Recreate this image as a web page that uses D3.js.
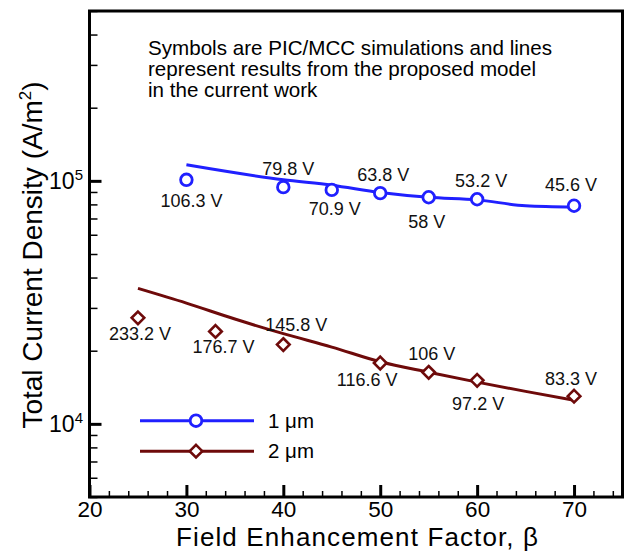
<!DOCTYPE html>
<html>
<head>
<meta charset="utf-8">
<script src="https://cdn.jsdelivr.net/npm/d3@7/dist/d3.min.js"></script>
<style>
  html, body { margin: 0; padding: 0; background: #fff; }
  svg { display: block; font-family: "Liberation Sans", Arial, Helvetica, sans-serif; }
</style>
</head>
<body>
<svg id="chart" width="630" height="552"></svg>
<script>
// PIC/MCC simulation results (symbols) and model predictions (lines)
const beta1 = [30, 40, 45, 50, 55, 60, 70];
const pic1 = [1.01e5, 9.42e4, 9.18e4, 8.9e4, 8.56e4, 8.4e4, 7.9e4];
const volt1 = ["106.3 V", "79.8 V", "70.9 V", "63.8 V", "58 V", "53.2 V", "45.6 V"];
const modelBeta1 = [30, 40, 45, 50, 55, 60, 65, 70];
const model1 = [1.164e5, 1.01e5, 9.6e4, 8.96e4, 8.56e4, 8.35e4, 7.9e4, 7.8e4];

const beta2 = [25, 33, 40, 50, 55, 60, 70];
const pic2 = [2.73e4, 2.40e4, 2.12e4, 1.78e4, 1.63e4, 1.51e4, 1.30e4];
const volt2 = ["233.2 V", "176.7 V", "145.8 V", "116.6 V", "106 V", "97.2 V", "83.3 V"];
const modelBeta2 = [25, 30, 35, 40, 45, 50, 55, 60, 65, 70];
const model2 = [3.61e4, 3.14e4, 2.70e4, 2.35e4, 2.07e4, 1.80e4, 1.63e4, 1.485e4, 1.36e4, 1.25e4];

const seriesNames = ["1 \u03bcm", "2 \u03bcm"];

// Tick values
const xMajor = [20, 30, 40, 50, 60, 70];
const xMinor = [22, 24, 26, 28, 32, 34, 36, 38, 42, 44, 46, 48, 52, 54, 56, 58, 62, 64, 66, 68, 72, 74];
const yMajor = [1e4, 1e5];
const yMinor = [5e3, 6e3, 7e3, 8e3, 9e3, 2e4, 3e4, 4e4, 5e4, 6e4, 7e4, 8e4, 9e4, 2e5, 3e5, 4e5, 5e5];
const yExponents = ["4", "5"];

// Voltage label placement (pixel offsets from each symbol)
const lab1 = [[5, 27], [5, -12], [3, 25], [3, -12], [-2, 31], [4, -12], [-3, -15]];
const lab2 = [[2, 22], [8, 22], [13, -14], [-13, 23], [3, -12], [1, 30], [-3, -11]];

const BLUE = "#2020ff";
const MAROON = "#6e0a0a";

const svg = d3.select("#chart");
const plotL = 89.5, plotR = 622.5, plotT = 11, plotB = 497;

const x = d3.scaleLinear().domain([20, 75]).range([plotL, plotR]);
const y = d3.scaleLog().domain([5000, 5e5]).range([plotB, plotT]);

// Bottom axis: major ticks with labels, minor ticks pointing inward
const xAxisMajor = d3.axisBottom(x).tickValues(xMajor).tickSize(-12).tickPadding(4.5)
  .tickFormat(d3.format("d"));
const gx = svg.append("g").attr("transform", `translate(0,${plotB})`).call(xAxisMajor);
gx.select(".domain").remove();
gx.selectAll(".tick line").attr("stroke", "#000").attr("stroke-width", 3);
gx.selectAll(".tick text").attr("fill", "#000").attr("font-size", 22.5)
  .attr("font-family", "Liberation Sans, Arial, sans-serif");

const gxm = svg.append("g").attr("transform", `translate(0,${plotB})`)
  .call(d3.axisBottom(x).tickValues(xMinor).tickSize(-6).tickFormat(""));
gxm.select(".domain").remove();
gxm.selectAll(".tick line").attr("stroke", "#000").attr("stroke-width", 1.5);

// Left axis
const gy = svg.append("g").attr("transform", `translate(${plotL},0)`)
  .call(d3.axisLeft(y).tickValues(yMajor).tickSize(-12).tickFormat(""));
gy.select(".domain").remove();
gy.selectAll(".tick line").attr("stroke", "#000").attr("stroke-width", 3);

const gym = svg.append("g").attr("transform", `translate(${plotL},0)`)
  .call(d3.axisLeft(y).tickValues(yMinor).tickSize(-8).tickFormat(""));
gym.select(".domain").remove();
gym.selectAll(".tick line").attr("stroke", "#000").attr("stroke-width", 1.5);

// Power-of-ten labels
yMajor.forEach((v, i) => {
  const t = svg.append("text")
    .attr("x", 83).attr("y", y(v) + 8)
    .attr("text-anchor", "end").attr("font-size", 23).attr("fill", "#000");
  t.append("tspan").text("10");
  t.append("tspan").attr("dy", -9).attr("font-size", 15).text(yExponents[i]);
});

// Frame
svg.append("rect")
  .attr("x", plotL).attr("y", plotT)
  .attr("width", plotR - plotL).attr("height", plotB - plotT)
  .attr("fill", "none").attr("stroke", "#000").attr("stroke-width", 3);

// Model lines
const line = d3.line().x(d => x(d[0])).y(d => y(d[1])).curve(d3.curveMonotoneX);
svg.append("path").datum(d3.zip(modelBeta1, model1))
  .attr("d", line).attr("fill", "none").attr("stroke", BLUE).attr("stroke-width", 3);
svg.append("path").datum(d3.zip(modelBeta2, model2))
  .attr("d", line).attr("fill", "none").attr("stroke", MAROON).attr("stroke-width", 3);

// Symbols
const diamond = s => `M0,${-s}L${s},0L0,${s}L${-s},0Z`;

svg.append("g").selectAll("circle").data(d3.zip(beta1, pic1)).join("circle")
  .attr("cx", d => x(d[0])).attr("cy", d => y(d[1])).attr("r", 5.8)
  .attr("fill", "#fff").attr("stroke", BLUE).attr("stroke-width", 2.8);

svg.append("g").selectAll("path").data(d3.zip(beta2, pic2)).join("path")
  .attr("transform", d => `translate(${x(d[0])},${y(d[1])})`)
  .attr("d", diamond(6.3))
  .attr("fill", "#fff").attr("stroke", MAROON).attr("stroke-width", 2.6);

// Voltage labels
function voltLabels(betas, vals, labels, offs) {
  svg.append("g").selectAll("text").data(d3.range(betas.length)).join("text")
    .attr("x", i => x(betas[i]) + offs[i][0])
    .attr("y", i => y(vals[i]) + offs[i][1])
    .attr("text-anchor", "middle").attr("font-size", 18).attr("fill", "#111")
    .text(i => labels[i]);
}
voltLabels(beta1, pic1, volt1, lab1);
voltLabels(beta2, pic2, volt2, lab2);

// Note text
const note = ["Symbols are PIC/MCC simulations and lines",
              "represent results from the proposed model",
              "in the current work"];
svg.append("g").selectAll("text").data(note).join("text")
  .attr("x", 148).attr("y", (d, i) => 55 + i * 21)
  .attr("font-size", 20.6).attr("fill", "#000").text(d => d);

// Legend
const legend = svg.append("g");
[[BLUE, "circle"], [MAROON, "diamond"]].forEach((s, i) => {
  const ly = 420.7 + i * 30.5;
  legend.append("line").attr("x1", 140).attr("x2", 254).attr("y1", ly).attr("y2", ly)
    .attr("stroke", s[0]).attr("stroke-width", 3);
  if (s[1] === "circle") {
    legend.append("circle").attr("cx", 196).attr("cy", ly).attr("r", 5.8)
      .attr("fill", "#fff").attr("stroke", s[0]).attr("stroke-width", 2.8);
  } else {
    legend.append("path").attr("transform", `translate(196,${ly})`).attr("d", diamond(6.3))
      .attr("fill", "#fff").attr("stroke", s[0]).attr("stroke-width", 2.6);
  }
  legend.append("text").attr("x", 268).attr("y", ly + 7)
    .attr("font-size", 20.5).attr("fill", "#000").text(seriesNames[i]);
});

// Axis titles
svg.append("text").attr("x", 357).attr("y", 546).attr("text-anchor", "middle")
  .attr("font-size", 26).attr("textLength", 362).attr("lengthAdjust", "spacing")
  .attr("fill", "#000").text("Field Enhancement Factor, \u03b2");

const yt = svg.append("text").attr("transform", "translate(42,255) rotate(-90)")
  .attr("text-anchor", "middle").attr("font-size", 28).attr("fill", "#000");
yt.append("tspan").text("Total Current Density (A/m");
yt.append("tspan").attr("dy", -11).attr("font-size", 17).text("2");
yt.append("tspan").attr("dy", 11).text(")");
</script>
</body>
</html>
